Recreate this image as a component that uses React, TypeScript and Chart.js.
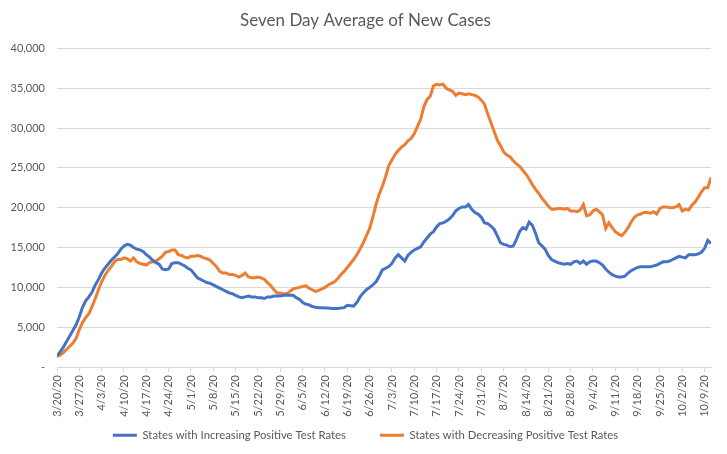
import { useEffect, useRef } from 'react';
import { Chart, registerables } from 'chart.js';

Chart.register(...registerables);

const chartTitle = 'Seven Day Average of New Cases';
const seriesNames = ['States with Increasing Positive Test Rates', 'States with Decreasing Positive Test Rates'];

// weekly tick labels (every 7th day starting 3/20/20)
const tickLabels = [
  '3/20/20', '3/27/20', '4/3/20', '4/10/20', '4/17/20', '4/24/20', '5/1/20', '5/8/20', '5/15/20', '5/22/20',
  '5/29/20', '6/5/20', '6/12/20', '6/19/20', '6/26/20', '7/3/20', '7/10/20', '7/17/20', '7/24/20', '7/31/20',
  '8/7/20', '8/14/20', '8/21/20', '8/28/20', '9/4/20', '9/11/20', '9/18/20', '9/25/20', '10/2/20', '10/9/20',
];

// daily values, 3/20/20 .. 10/11/20
const increasing = [
  1400, 1900, 2500, 3200, 3900, 4600, 5300, 6300, 7500, 8300,
  8800, 9400, 10300, 11000, 11800, 12400, 12900, 13400, 13800, 14200,
  14800, 15200, 15400, 15300, 15000, 14800, 14700, 14500, 14100, 13800,
  13400, 13100, 12900, 12300, 12200, 12300, 13000, 13100, 13100, 12900,
  12700, 12400, 12200, 11700, 11200, 11000, 10800, 10600, 10500, 10300,
  10100, 9900, 9700, 9500, 9300, 9200, 9000, 8800, 8700, 8800,
  8900, 8800, 8800, 8700, 8700, 8600, 8800, 8800, 8900, 8900,
  8900, 9000, 9050, 9000, 9000, 8700, 8500, 8100, 7900, 7800,
  7600, 7500, 7450, 7450, 7400, 7400, 7350, 7350, 7350, 7400,
  7450, 7750, 7700, 7650, 8100, 8800, 9300, 9700, 10000, 10300,
  10700, 11400, 12200, 12400, 12600, 13000, 13700, 14100, 13700, 13300,
  14000, 14400, 14700, 14900, 15100, 15700, 16200, 16700, 17000, 17600,
  18000, 18100, 18300, 18600, 19000, 19600, 19900, 20100, 20100, 20400,
  19800, 19400, 19200, 18800, 18100, 18000, 17700, 17300, 16500, 15600,
  15400, 15300, 15100, 15200, 16000, 17000, 17500, 17300, 18200, 17800,
  16800, 15600, 15200, 14800, 14000, 13500, 13300, 13100, 13000, 12900,
  13000, 12900, 13200, 13300, 13000, 13300, 12900, 13200, 13300, 13300,
  13100, 12800, 12300, 11900, 11600, 11400, 11300, 11300, 11400, 11800,
  12100, 12300, 12500, 12600, 12600, 12600, 12600, 12700, 12800, 13000,
  13200, 13200, 13300, 13500, 13700, 13900, 13800, 13700, 14100, 14100,
  14100, 14200, 14400, 14900, 15900, 15500,
];

const decreasing = [
  1300, 1500, 1800, 2200, 2600, 3000, 3600, 4700, 5600, 6200,
  6700, 7600, 8600, 9700, 10700, 11500, 12100, 12600, 13200, 13500,
  13500, 13700, 13600, 13300, 13700, 13200, 13000, 12900, 12800, 13100,
  13200, 13300, 13600, 13900, 14400, 14500, 14700, 14700, 14100, 14000,
  13800, 13700, 13900, 13900, 14000, 13900, 13700, 13600, 13400, 13000,
  12600, 12000, 11800, 11800, 11600, 11600, 11500, 11300, 11500, 11800,
  11300, 11200, 11200, 11300, 11200, 11000, 10600, 10200, 9700, 9300,
  9300, 9200, 9200, 9500, 9800, 9900, 10000, 10100, 10200, 9900,
  9700, 9500, 9600, 9800, 10000, 10300, 10500, 10700, 11100, 11600,
  12000, 12500, 13000, 13500, 14100, 14800, 15600, 16500, 17400, 18800,
  20400, 21700, 22700, 23900, 25300, 26000, 26700, 27200, 27600, 27900,
  28400, 28700, 29300, 30200, 31100, 32700, 33600, 34000, 35300, 35500,
  35400, 35500, 35000, 34800, 34600, 34100, 34400, 34300, 34200, 34300,
  34200, 34100, 33900, 33500, 33000, 31800, 30700, 29600, 28500, 27800,
  27000, 26600, 26400, 25900, 25500, 25200, 24700, 24200, 23600, 22900,
  22300, 21800, 21200, 20700, 20200, 19800, 19800, 19900, 19900, 19800,
  19900, 19600, 19600, 19500, 19700, 20400, 19000, 19100, 19600, 19800,
  19500, 19100, 17400, 18100, 17500, 17000, 16700, 16500, 16900, 17500,
  18200, 18800, 19100, 19200, 19400, 19400, 19300, 19500, 19200, 19900,
  20100, 20100, 20000, 20000, 20100, 20400, 19600, 19800, 19700, 20300,
  20700, 21300, 22000, 22500, 22500, 23800,
];

const TEXT = '#595959';
const GRID = '#d9d9d9';
const FONT = 'Lato, "Open Sans", sans-serif';

export default function App() {
  const ref = useRef<HTMLCanvasElement>(null);

  useEffect(() => {
    const canvas = ref.current;
    if (!canvas) return;
    const chart = new Chart(canvas, {
      type: 'line',
      data: {
        datasets: [
          {
            label: seriesNames[0],
            data: increasing.map((y, i) => ({ x: i, y })),
            borderColor: '#4472C4',
            backgroundColor: '#4472C4',
            borderWidth: 3,
            pointRadius: 0,
            pointStyle: 'line',
            tension: 0,
          },
          {
            label: seriesNames[1],
            data: decreasing.map((y, i) => ({ x: i, y })),
            borderColor: '#ED7D31',
            backgroundColor: '#ED7D31',
            borderWidth: 3,
            pointRadius: 0,
            pointStyle: 'line',
            tension: 0,
          },
        ],
      },
      options: {
        responsive: false,
        animation: false,
        layout: { padding: { left: 4, right: 0, top: 0, bottom: 3 } },
        plugins: {
          title: {
            display: true,
            text: chartTitle,
            color: TEXT,
            font: { family: FONT, size: 17, weight: 'normal' },
            padding: { top: 10, bottom: 18 },
          },
          legend: {
            position: 'bottom',
            labels: {
              usePointStyle: true,
              pointStyleWidth: 24,
              color: TEXT,
              font: { family: FONT, size: 11.3 },
              padding: 34,
            },
          },
          tooltip: { enabled: false },
        },
        scales: {
          x: {
            type: 'linear',
            min: 0,
            max: increasing.length - 1,
            afterBuildTicks: (s: any) => {
              s.ticks = tickLabels.map((_, i) => ({ value: i * 7 }));
            },
            afterFit: (s: any) => {
              s.height = 28.7;
              s._computeLabelArea = () => undefined;
            },
            grid: { display: true, drawOnChartArea: false, drawTicks: true, tickLength: 5, color: GRID },
            border: { display: true, color: GRID },
            ticks: {
              autoSkip: false,
              minRotation: 90,
              maxRotation: 90,
              padding: 3,
              color: TEXT,
              font: { family: FONT, size: 11 },
              callback: (v: any) => tickLabels[Math.round(Number(v) / 7)],
            },
          },
          y: {
            min: 0,
            max: 40000,
            afterFit: (s: any) => {
              s.width = 53;
            },
            grid: { color: GRID, drawTicks: false },
            border: { display: false },
            ticks: {
              stepSize: 5000,
              padding: 12,
              color: TEXT,
              font: { family: FONT, size: 11 },
              callback: (v: any) => (Number(v) === 0 ? '-' : Number(v).toLocaleString('en-US')),
            },
          },
          yRight: {
            type: 'linear',
            position: 'right',
            display: true,
            afterFit: (s: any) => {
              s.width = 16;
            },
            grid: { display: false },
            border: { display: false },
            ticks: { display: false },
          },
        },
      },
    });
    return () => chart.destroy();
  }, []);

  return (
    <canvas
      ref={ref}
      width={727}
      height={454}
      style={{ position: 'absolute', left: 0, top: 0, width: 727, height: 454, display: 'block' }}
    />
  );
}
